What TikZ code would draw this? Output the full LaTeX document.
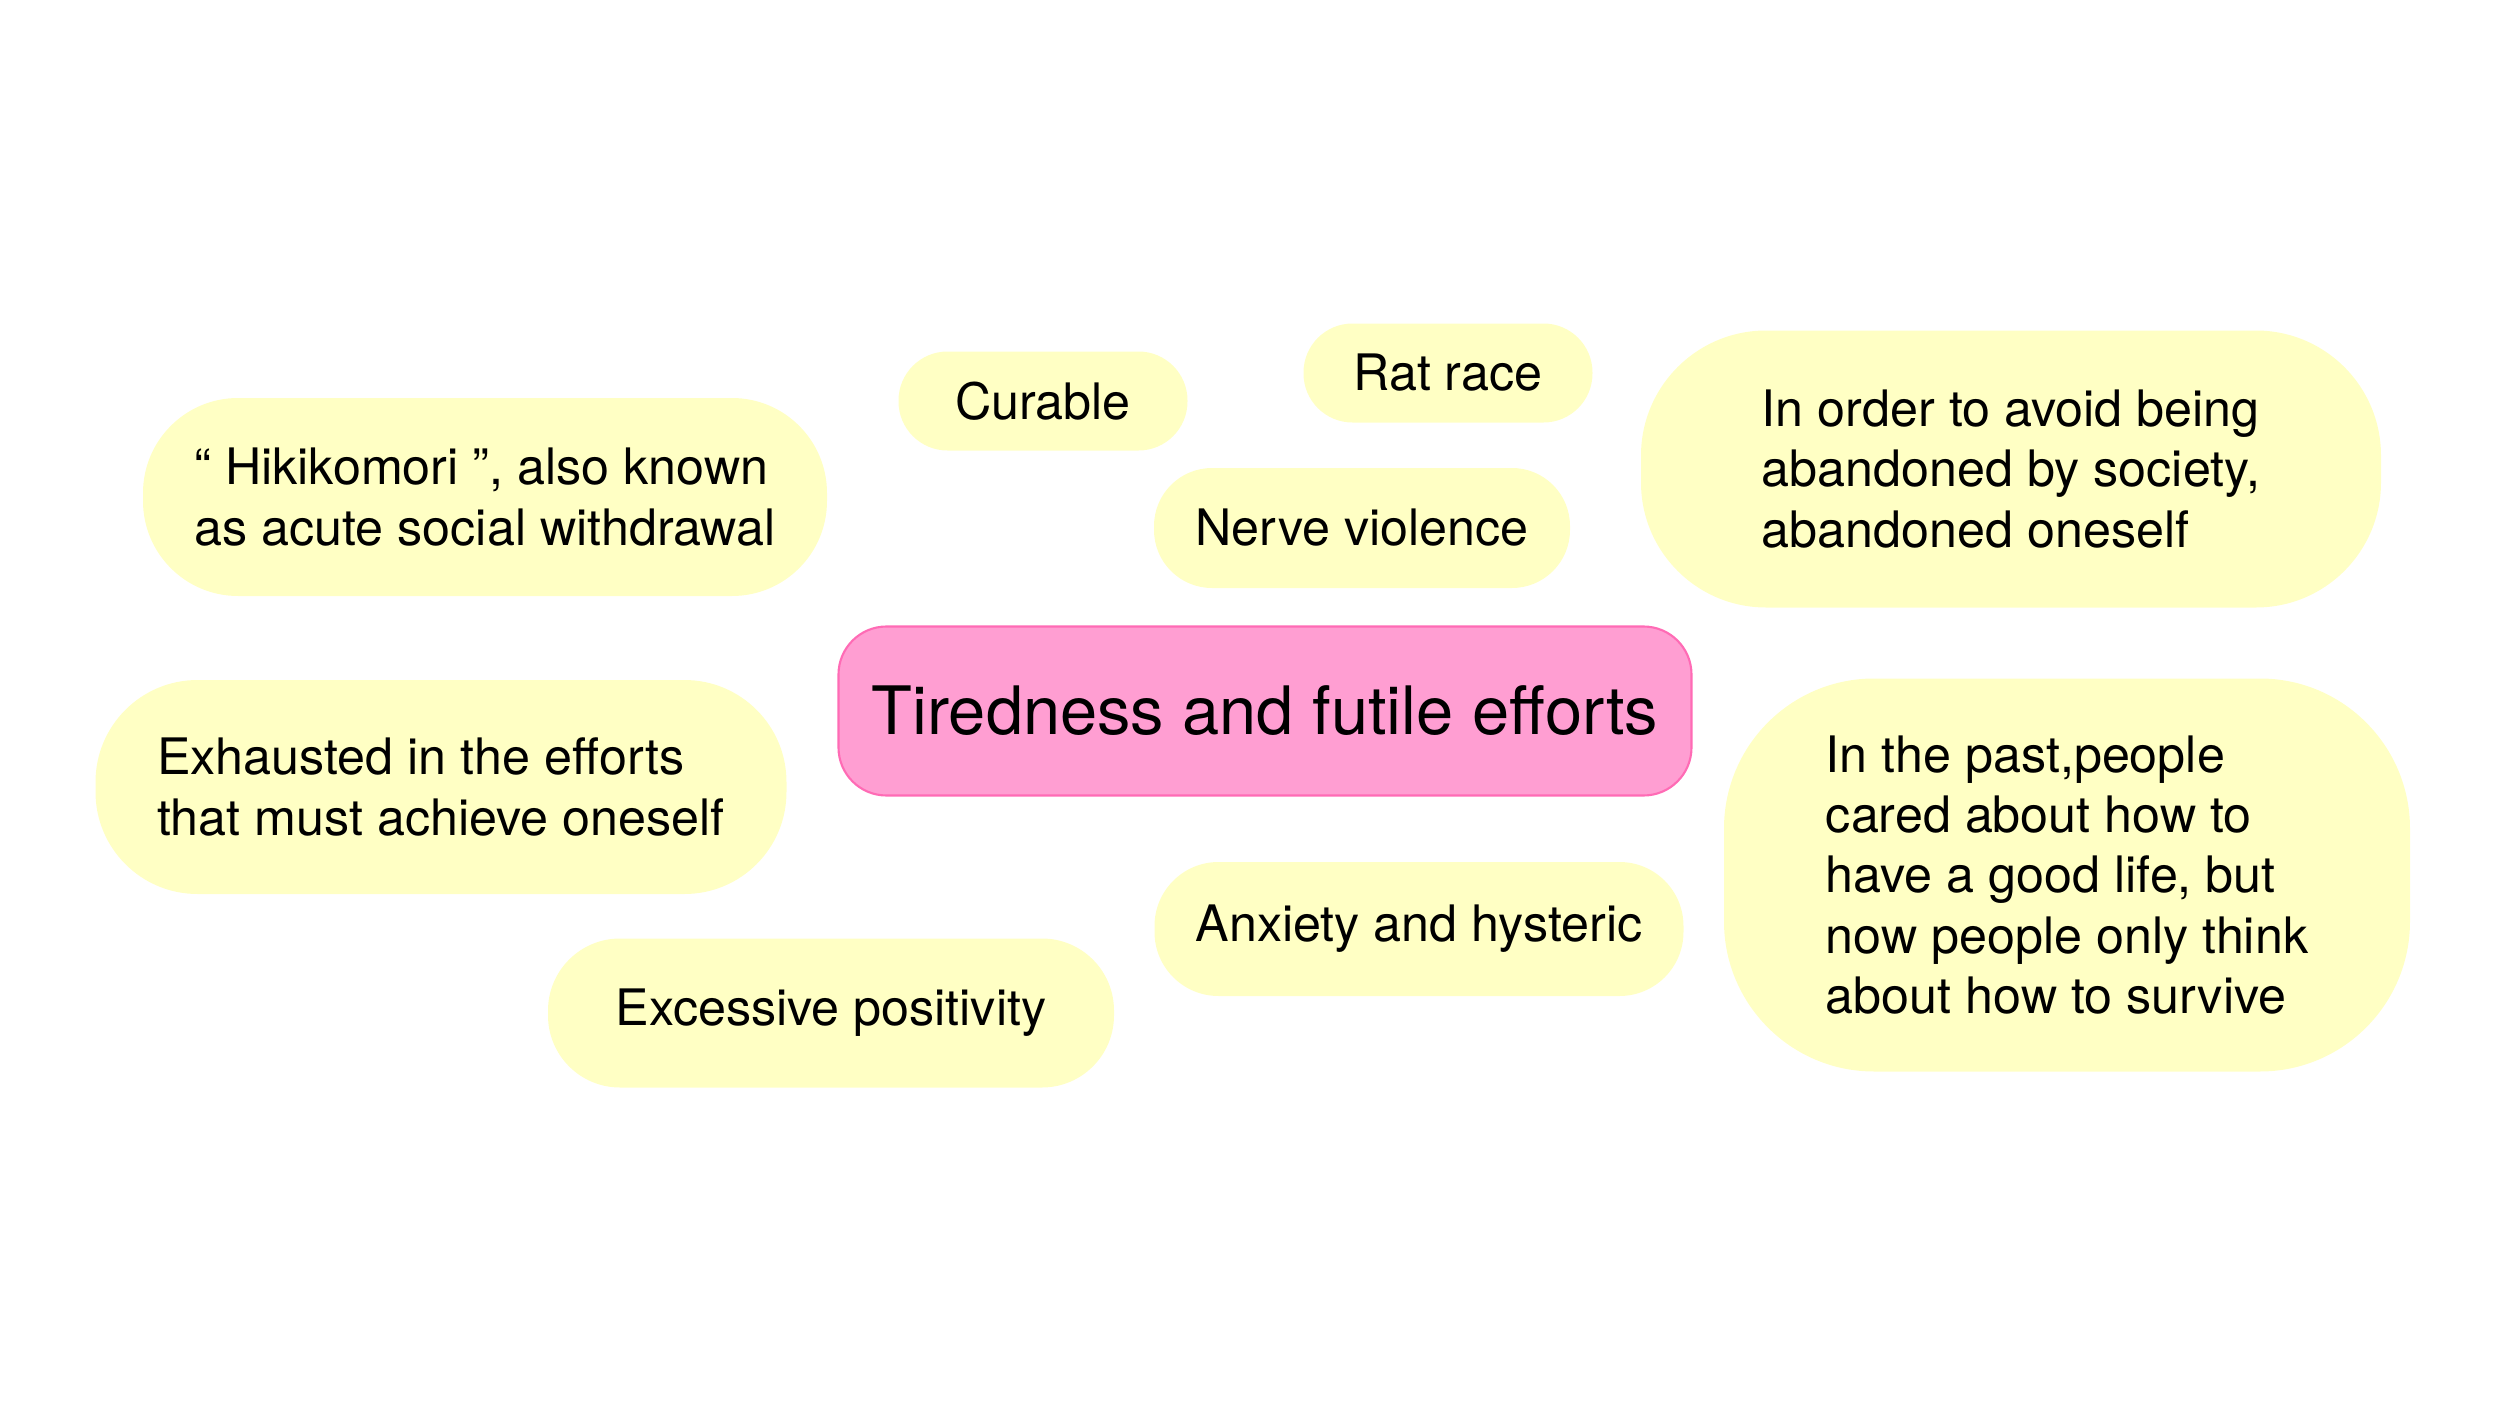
\documentclass[tikz,border=0pt]{standalone}
\usepackage{fontspec}
\setmainfont{TeX Gyre Heros}
\usepackage{xcolor}
\definecolor{NoteYellow}{HTML}{FFFFC4}
\definecolor{CorePink}{HTML}{FF9ED2}
\definecolor{CoreEdge}{HTML}{FF6BB5}
\usepackage{tikz}

\begin{document}
\begin{tikzpicture}[
    idea/.style={fill=NoteYellow, inner sep=0pt, align=left, font=\fontsize{14.3pt}{17.2pt}\selectfont},
    core/.style={fill=CorePink, draw=CoreEdge, line width=0.6pt, rounded corners=0.48cm, inner sep=0pt, font=\fontsize{19pt}{23pt}\selectfont},
]
\useasboundingbox (0,0) rectangle (25.07,14.10);

% Central topic
\node[core, minimum width=8.53cm, minimum height=1.69cm] (tired) at (12.65,6.99) {Tiredness and futile efforts};

% Short notes (top)
\node[idea, rounded corners=0.49cm, minimum width=2.89cm, minimum height=0.99cm] (curable) at (10.43,10.09) {Curable};
\node[idea, rounded corners=0.49cm, minimum width=2.89cm, minimum height=0.99cm] (ratrace) at (14.48,10.37) {Rat race};
\node[idea, rounded corners=0.58cm, minimum width=4.16cm, minimum height=1.20cm] (nerve) at (13.62,8.82) {Nerve violence};

% Short notes (bottom)
\node[idea, rounded corners=0.64cm, minimum width=5.29cm, minimum height=1.34cm] (anxiety) at (14.19,4.81) {Anxiety and hysteric};
\node[idea, rounded corners=0.72cm, minimum width=5.66cm, minimum height=1.49cm] (positive) at (8.31,3.97) {Excessive positivity};

% Longer notes (left)
\node[idea, rounded corners=0.95cm, minimum width=6.84cm, minimum height=1.98cm] (hikiko) at (4.85,9.13)
    {“ Hikikomori ”, also known\\as acute social withdrawal};
\node[idea, rounded corners=1.02cm, minimum width=6.91cm, minimum height=2.14cm] (exhaust) at (4.41,6.23)
    {Exhausted in the efforts\\that must achieve oneself};

% Longer notes (right)
\node[idea, rounded corners=1.25cm, minimum width=7.40cm, minimum height=2.77cm] (abandon) at (20.11,9.41)
    {In order to avoid being\\abandoned by society,\\abandoned oneself};
\node[idea, rounded corners=1.5cm, minimum width=6.86cm, minimum height=3.93cm] (survive) at (20.67,5.35)
    {In the past,people\\cared about how to\\have a good life, but\\now people only think\\about how to survive};

\end{tikzpicture}
\end{document}
